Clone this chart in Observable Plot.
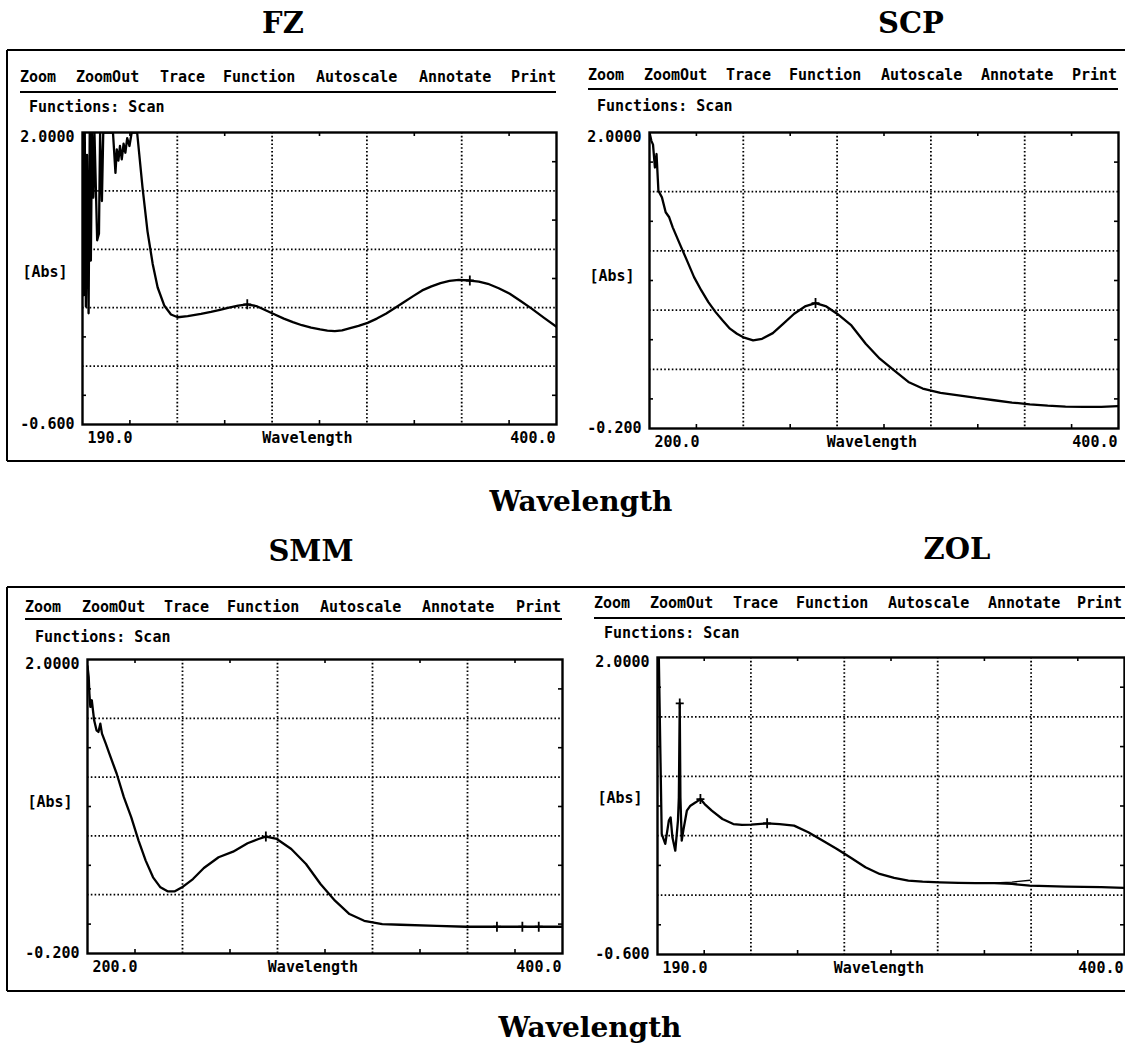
<!DOCTYPE html>
<html><head><meta charset="utf-8">
<script src="https://cdn.jsdelivr.net/npm/d3@7"></script>
<script src="https://cdn.jsdelivr.net/npm/@observablehq/plot@0.6"></script>
<style>
html,body{margin:0;padding:0;background:#fff;}
#root{position:relative;width:1125px;height:1050px;overflow:hidden;background:#fff;color:#000;}
</style></head><body><div id="root"></div>
<script>
// ---------------- DATA ----------------
const panelNames = ["FZ", "SCP", "SMM", "ZOL"];
const menuItems = ["Zoom", "ZoomOut", "Trace", "Function", "Autoscale", "Annotate", "Print"];
const functionsLabel = "Functions: Scan";
const yAxisName = "[Abs]";
const xAxisName = "Wavelength";
const bigXAxisName = "Wavelength";

// FZ
const fzWavelength = [190.0,190.5,191.0,191.5,192.0,192.7,193.2,193.7,194.2,194.8,195.3,196.5,197.3,197.8,198.6,199.2,203.5,204.6,205.2,205.9,206.6,207.4,208.2,209.0,209.8,210.8,211.8,214.2,216.6,218.8,221.1,223.3,226.2,229.2,232.2,236.6,242.5,246.9,250.9,254.9,259.0,263.0,267.0,271.1,275.2,279.2,283.2,287.2,291.3,295.3,298.5,301.8,305.0,308.2,312.3,316.3,320.4,324.4,328.4,332.5,336.5,340.5,344.6,348.6,352.6,356.7,361.6,365.6,369.6,374.4,379.3,384.1,389.0,394.5,400.0];
const fzAbs = [2.0,0.55,2.0,0.45,1.8,0.39,2.0,0.86,2.0,1.42,2.0,1.04,1.1,2.0,1.39,2.0,2.0,1.64,1.85,1.75,1.88,1.76,1.9,1.82,1.95,1.88,2.0,2.0,1.51,1.12,0.83,0.62,0.46,0.38,0.355,0.365,0.385,0.402,0.42,0.44,0.458,0.47,0.455,0.417,0.38,0.343,0.312,0.284,0.262,0.246,0.236,0.231,0.238,0.255,0.278,0.305,0.343,0.387,0.437,0.49,0.543,0.594,0.63,0.659,0.678,0.688,0.682,0.672,0.653,0.613,0.564,0.50,0.432,0.35,0.27];
const fzMarkWavelength = [263.0, 361.6];
const fzMarkAbs = [0.47, 0.682];

// SCP
const scpWavelength = [200.0,200.8,201.5,202.3,203.0,203.8,205.3,206.9,208.4,209.9,212.9,216.0,219.0,222.1,225.1,228.2,231.2,234.3,237.3,240.4,244.2,248.0,252.6,257.1,261.7,266.3,270.8,275.4,280.0,286.1,292.2,298.2,304.3,310.4,316.5,324.1,331.8,339.4,347.0,354.6,362.2,369.8,377.4,385.1,392.7,400.0];
const scpAbs = [2.0,1.938,1.91,1.74,1.84,1.567,1.518,1.407,1.37,1.295,1.172,1.048,0.925,0.826,0.739,0.665,0.603,0.542,0.504,0.475,0.455,0.467,0.509,0.579,0.653,0.707,0.732,0.707,0.653,0.566,0.43,0.319,0.232,0.146,0.097,0.064,0.047,0.027,0.010,-0.007,-0.020,-0.03,-0.037,-0.039,-0.039,-0.034];
const scpMarkWavelength = [270.8];
const scpMarkAbs = [0.732];

// SMM
const smmWavelength = [200.0,200.5,200.8,201.2,201.8,202.8,203.8,204.6,205.4,206.1,207.7,209.2,212.3,215.3,218.4,221.5,224.5,227.6,230.7,233.7,236.8,239.8,244.4,249.0,255.2,261.3,267.4,272.0,275.1,279.7,285.8,292.0,298.1,304.2,310.3,316.5,324.1,331.8,347.1,359.4,372.4,383.1,390.0,400.0];
const smmAbs = [1.95,1.87,1.745,1.645,1.695,1.545,1.47,1.458,1.52,1.445,1.37,1.295,1.145,0.97,0.82,0.645,0.495,0.37,0.295,0.265,0.265,0.295,0.357,0.44,0.52,0.562,0.625,0.657,0.675,0.657,0.582,0.47,0.32,0.195,0.095,0.045,0.02,0.015,0.007,0.0,0.0,0.0,0.0,0.0];
const smmMarkWavelength = [275.1, 372.4, 383.1, 390.0];
const smmMarkAbs = [0.675, 0.0, 0.0, 0.0];

// ZOL
const zolWavelength = [190.6,191.3,191.9,193.5,195.1,195.9,196.7,198.0,199.2,199.6,200.0,200.3,200.9,201.6,203.2,204.8,207.2,209.3,211.2,214.4,219.2,224.1,228.0,232.1,239.3,244.9,251.4,257.8,264.2,270.7,277.1,283.5,289.9,296.4,302.8,309.2,317.0,325.3,333.0,341.4,349.4,357.4,365.5,373.5,381.5,389.6,400.0];
const zolAbs = [2.0,1.155,0.455,0.368,0.572,0.60,0.426,0.309,0.572,0.776,1.598,0.776,0.397,0.484,0.659,0.703,0.732,0.761,0.717,0.659,0.586,0.542,0.535,0.537,0.548,0.542,0.528,0.47,0.397,0.324,0.245,0.164,0.105,0.07,0.047,0.038,0.032,0.027,0.025,0.024,0.018,0.003,-0.002,-0.005,-0.008,-0.011,-0.017];
const zolMarkWavelength = [200.0, 209.3, 239.3];
const zolMarkAbs = [1.598, 0.761, 0.548];
const zolArtifactWavelength = [341.4, 349.4, 357.6];
const zolArtifactAbs = [0.026, 0.034, 0.05];

// Axes: domains, gridlines and tick labels
const wideXDomain = [190, 400];
const narrowXDomain = [200, 400];
const wideYDomain = [-0.6, 2.0];
const narrowYDomain = [-0.2, 2.0];
const wideXGrid = [232, 274, 316, 358];
const wideXMinor = [211, 253, 295, 337, 379];
const narrowXGrid = [240, 280, 320, 360];
const narrowXMinor = [220, 260, 300, 340, 380];
const wideYGrid = [1.48, 0.96, 0.44, -0.08];
const wideYMinor = [1.74, 1.22, 0.70, 0.18, -0.34];
const narrowYGrid = [1.56, 1.12, 0.68, 0.24];
const narrowYMinor = [1.78, 1.34, 0.90, 0.46, 0.02];
const wideXTickLabels = ["190.0", "400.0"];
const narrowXTickLabels = ["200.0", "400.0"];
const wideYTickLabels = ["2.0000", "-0.600"];
const narrowYTickLabels = ["2.0000", "-0.200"];

// ---------------- LAYOUT ----------------
const W = 1125, H = 1050;
const MONO = "'DejaVu Sans Mono', monospace";
const SERIF = "'DejaVu Serif', serif";

const panels = [
  { name: panelNames[0], title: [283, 33], menuY: 77, menuX: [20,76,160,223,316,419,511], rule: [20, 556, 92], fn: [29, 107],
    rect: {l: 82, r: 556, t: 132, b: 424}, absDy: -6,
    x: fzWavelength, y: fzAbs, mx: fzMarkWavelength, my: fzMarkAbs,
    xDomain: wideXDomain, yDomain: wideYDomain, xGrid: wideXGrid, xMinor: wideXMinor, yGrid: wideYGrid, yMinor: wideYMinor,
    xLabels: wideXTickLabels, yLabels: wideYTickLabels },
  { name: panelNames[1], title: [911, 33], menuY: 75, menuX: [588,644,726,789,881,981,1072], rule: [588, 1118, 89], fn: [597, 106],
    rect: {l: 649, r: 1118, t: 132, b: 428}, absDy: -4,
    x: scpWavelength, y: scpAbs, mx: scpMarkWavelength, my: scpMarkAbs,
    xDomain: narrowXDomain, yDomain: narrowYDomain, xGrid: narrowXGrid, xMinor: narrowXMinor, yGrid: narrowYGrid, yMinor: narrowYMinor,
    xLabels: narrowXTickLabels, yLabels: narrowYTickLabels },
  { name: panelNames[2], title: [311, 561], menuY: 607, menuX: [25,82,164,227,320,422,516], rule: [25, 562, 619], fn: [35, 637],
    rect: {l: 87, r: 562, t: 659, b: 953}, absDy: -4,
    x: smmWavelength, y: smmAbs, mx: smmMarkWavelength, my: smmMarkAbs,
    xDomain: narrowXDomain, yDomain: narrowYDomain, xGrid: narrowXGrid, xMinor: narrowXMinor, yGrid: narrowYGrid, yMinor: narrowYMinor,
    xLabels: narrowXTickLabels, yLabels: narrowYTickLabels },
  { name: panelNames[3], title: [957, 559], menuY: 603, menuX: [594,650,733,796,888,988,1077], rule: [594, 1125, 618], fn: [604, 633],
    rect: {l: 657, r: 1124, t: 657, b: 954}, absDy: -8,
    x: zolWavelength, y: zolAbs, mx: zolMarkWavelength, my: zolMarkAbs,
    ax: zolArtifactWavelength, ay: zolArtifactAbs,
    xDomain: wideXDomain, yDomain: wideYDomain, xGrid: wideXGrid, xMinor: wideXMinor, yGrid: wideYGrid, yMinor: wideYMinor,
    xLabels: wideXTickLabels, yLabels: wideYTickLabels }
];

// ---------------- CHROME (frames, menus, titles) ----------------
const root = d3.select("#root");
const chrome = root.append("svg").attr("width", W).attr("height", H)
  .style("position", "absolute").style("left", "0px").style("top", "0px");

const frameLines = [
  [7, 50, 1125, 50], [7, 461, 1125, 461], [7, 50, 7, 461],
  [7, 587, 1125, 587], [7, 991, 1125, 991], [7, 587, 7, 991]
];
chrome.selectAll("line.frame").data(frameLines).join("line")
  .attr("x1", d => d[0]).attr("y1", d => d[1]).attr("x2", d => d[2]).attr("y2", d => d[3])
  .attr("stroke", "#000").attr("stroke-width", 2);

for (const p of panels) {
  chrome.append("text").attr("x", p.title[0]).attr("y", p.title[1])
    .attr("text-anchor", "middle").attr("font-family", SERIF).attr("font-weight", "bold")
    .attr("font-size", 29).text(p.name);
  menuItems.forEach((m, i) => {
    chrome.append("text").attr("x", p.menuX[i]).attr("y", p.menuY)
      .attr("dominant-baseline", "central").attr("font-family", MONO).attr("font-weight", "bold")
      .attr("font-size", 15).text(m);
  });
  chrome.append("line").attr("x1", p.rule[0]).attr("x2", p.rule[1]).attr("y1", p.rule[2]).attr("y2", p.rule[2])
    .attr("stroke", "#000").attr("stroke-width", 2);
  chrome.append("text").attr("x", p.fn[0]).attr("y", p.fn[1])
    .attr("dominant-baseline", "central").attr("font-family", MONO).attr("font-weight", "bold")
    .attr("font-size", 15).text(functionsLabel);
}
[[581, 511], [590, 1037]].forEach(([x, y]) => {
  chrome.append("text").attr("x", x).attr("y", y).attr("text-anchor", "middle")
    .attr("font-family", SERIF).attr("font-weight", "bold").attr("font-size", 28).text(bigXAxisName);
});

// ---------------- PLOTS ----------------
const thinPlus = {
  draw(context, size) {
    const r = Math.sqrt(size / Math.PI);
    context.moveTo(-r * 0.8, 0); context.lineTo(r * 0.8, 0);
    context.moveTo(0, -r); context.lineTo(0, r);
  }
};

for (const p of panels) {
  const n = Math.min(p.x.length, p.y.length);
  const data = d3.range(n).map(i => ({wavelength: p.x[i], abs: p.y[i]}));
  const marks = d3.range(Math.min(p.mx.length, p.my.length)).map(i => ({wavelength: p.mx[i], abs: p.my[i]}));
  const artifact = p.ax ? p.ax.map((x, i) => ({wavelength: x, abs: p.ay[i]})) : [];
  const mL = 80, mR = 8, mT = 8, mB = 28;
  const w = p.rect.r - p.rect.l, h = p.rect.b - p.rect.t;
  const dotted = {stroke: "#000", strokeOpacity: 1, strokeWidth: 1.8, strokeDasharray: "1.6 2.2"};
  const tick = {stroke: "#000", strokeWidth: 1.6};
  const chart = Plot.plot({
    width: w + mL + mR, height: h + mT + mB,
    marginLeft: mL, marginRight: mR, marginTop: mT, marginBottom: mB,
    x: {domain: p.xDomain, axis: null, label: null},
    y: {domain: p.yDomain, axis: null, label: null},
    style: {fontFamily: MONO, fontSize: "15px", fontWeight: "bold", background: "transparent", color: "#000", overflow: "visible"},
    marks: [
      Plot.gridX(p.xGrid, dotted),
      Plot.gridY(p.yGrid, dotted),
      Plot.ruleX(p.xMinor, {...tick, insetTop: h - 4}),
      Plot.ruleX(p.xMinor, {...tick, insetBottom: h - 4}),
      Plot.ruleY(p.yMinor, {...tick, insetRight: w - 4}),
      Plot.ruleY(p.yMinor, {...tick, insetLeft: w - 4}),
      Plot.line(data, {x: "wavelength", y: "abs", stroke: "#000", strokeWidth: 2.3, clip: true}),
      Plot.line(artifact, {x: "wavelength", y: "abs", stroke: "#000", strokeWidth: 1.3, clip: true}),
      Plot.dot(marks, {x: "wavelength", y: "abs", symbol: thinPlus, r: 5, stroke: "#000", strokeWidth: 1.8, fill: "none"}),
      Plot.frame({stroke: "#000", strokeWidth: 2.4}),
      Plot.axisY([p.yDomain[1]], {tickSize: 0, tickPadding: 8, dy: 5, label: null, tickFormat: () => p.yLabels[0]}),
      Plot.axisY([p.yDomain[0]], {tickSize: 0, tickPadding: 8, dy: 0, label: null, tickFormat: () => p.yLabels[1]}),
      Plot.axisX([p.xDomain[0]], {tickSize: 0, tickPadding: 8, dx: 5, textAnchor: "start", label: null, tickFormat: () => p.xLabels[0]}),
      Plot.axisX([p.xDomain[1]], {tickSize: 0, tickPadding: 8, dx: -1, textAnchor: "end", label: null, tickFormat: () => p.xLabels[1]}),
      Plot.text([yAxisName], {text: d => d, frameAnchor: "left", textAnchor: "start", dx: -60, dy: p.absDy}),
      Plot.text([xAxisName], {text: d => d, frameAnchor: "bottom", lineAnchor: "top", dy: 8, dx: -12})
    ]
  });
  chart.style.position = "absolute";
  chart.style.left = (p.rect.l - mL) + "px";
  chart.style.top = (p.rect.t - mT) + "px";
  root.node().appendChild(chart);
}
</script>
</body></html>
